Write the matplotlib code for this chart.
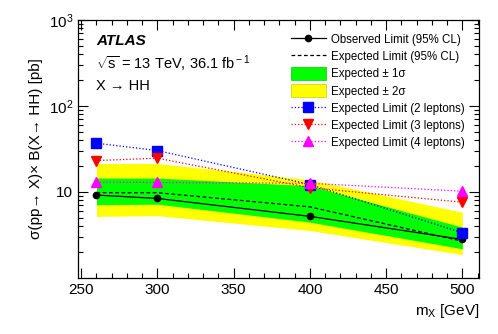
import numpy as np
import matplotlib
matplotlib.use("Agg")
import matplotlib.pyplot as plt
from matplotlib.patches import Patch
from matplotlib.lines import Line2D
from matplotlib.ticker import FixedLocator, NullFormatter, MultipleLocator, LogLocator

plt.rcParams["font.family"] = ["Liberation Sans", "DejaVu Sans"]
plt.rcParams["mathtext.fontset"] = "custom"
plt.rcParams["mathtext.rm"] = "Liberation Sans"
plt.rcParams["mathtext.it"] = "Liberation Sans:italic"

# masses [GeV]
mass = [260, 300, 400, 500]

observed = [9.2, 8.4, 5.2, 2.8]
expected = [9.8, 9.8, 6.7, 2.67]
band1_lo = [7.1, 7.2, 4.45, 2.18]
band1_hi = [14.5, 14.5, 11.8, 3.9]
band2_lo = [5.2, 5.3, 3.56, 1.87]
band2_hi = [21.4, 21.4, 13.9, 5.8]

exp_2l = [36.9, 30.3, 12.2, 3.35]
exp_3l = [23.2, 24.7, 11.2, 7.6]
exp_4l = [13.0, 12.9, 12.6, 10.2]

fig = plt.figure(figsize=(4.98, 3.34), dpi=100)
ax = fig.add_axes([0.157, 0.168, 0.805, 0.772])

ax.fill_between(mass, band2_lo, band2_hi, color="#ffff00", lw=0)
ax.fill_between(mass, band1_lo, band1_hi, color="#00ff00", lw=0)
ax.plot(mass, expected, color="black", ls="--", lw=0.9, dashes=(3, 2))
ax.plot(mass, observed, color="black", lw=0.9, marker="o", ms=4.5)

ax.plot(mass, exp_2l, color="#0000ff", ls=":", lw=0.9, marker="s", ms=7)
ax.plot(mass, exp_3l, color="#ff0000", ls=":", lw=0.9, marker="v", ms=7)
ax.plot(mass, exp_4l, color="#ff00ff", ls=":", lw=0.9, marker="^", ms=7)

ax.set_yscale("log")
ax.set_ylim(1, 1000)
ax.set_xlim(248, 511)

ax.xaxis.set_major_locator(MultipleLocator(50))
ax.xaxis.set_minor_locator(MultipleLocator(10))
ax.yaxis.set_major_locator(FixedLocator([10, 100, 1000]))
ax.yaxis.set_minor_locator(LogLocator(base=10, subs=np.arange(2, 10)))
ax.yaxis.set_minor_formatter(NullFormatter())
ax.set_yticklabels(["10", "$10^2$", "$10^3$"])

ax.tick_params(which="both", direction="in", top=True, right=True, labelsize=11)
ax.tick_params(which="major", length=7, width=0.8)
ax.tick_params(which="minor", length=3.5, width=0.8)
for s in ax.spines.values():
    s.set_linewidth(0.9)

ax.set_ylabel(r"σ(pp→ X)× B(X→ HH) [pb]", fontsize=11, labelpad=4)
ax.set_xlabel(r"m$_{\rm X}$ [GeV]", fontsize=11, loc="right")

ax.text(0.045, 0.905, "ATLAS", transform=ax.transAxes, fontsize=11,
        fontweight="bold", fontstyle="italic")
ax.text(0.045, 0.81, r"$\sqrt{\rm s}$ = 13 TeV, 36.1 fb$^{\rm -1}$",
        transform=ax.transAxes, fontsize=10.5)
ax.text(0.045, 0.73, "X → HH", transform=ax.transAxes, fontsize=10.5)

handles = [
    Line2D([], [], color="black", lw=0.9, marker="o", ms=4.5),
    Line2D([], [], color="black", lw=0.9, ls="--", dashes=(3, 2)),
    Patch(facecolor="#00ff00", edgecolor="#00cc00", lw=0.5),
    Patch(facecolor="#ffff00", edgecolor="#cccc00", lw=0.5),
    Line2D([], [], color="#0000ff", lw=0.9, ls=":", marker="s", ms=7),
    Line2D([], [], color="#ff0000", lw=0.9, ls=":", marker="v", ms=7),
    Line2D([], [], color="#ff00ff", lw=0.9, ls=":", marker="^", ms=7),
]
labels = [
    "Observed Limit (95% CL)",
    "Expected Limit (95% CL)",
    r"Expected ± 1σ",
    r"Expected ± 2σ",
    "Expected Limit (2 leptons)",
    "Expected Limit (3 leptons)",
    "Expected Limit (4 leptons)",
]
ax.legend(handles, labels, loc="upper right", bbox_to_anchor=(1.0, 1.005),
          frameon=False, fontsize=8.3, handlelength=3.0, handleheight=1.3,
          labelspacing=0.36, handletextpad=0.5, borderaxespad=0.8)

fig.savefig("out.png", dpi=100)
